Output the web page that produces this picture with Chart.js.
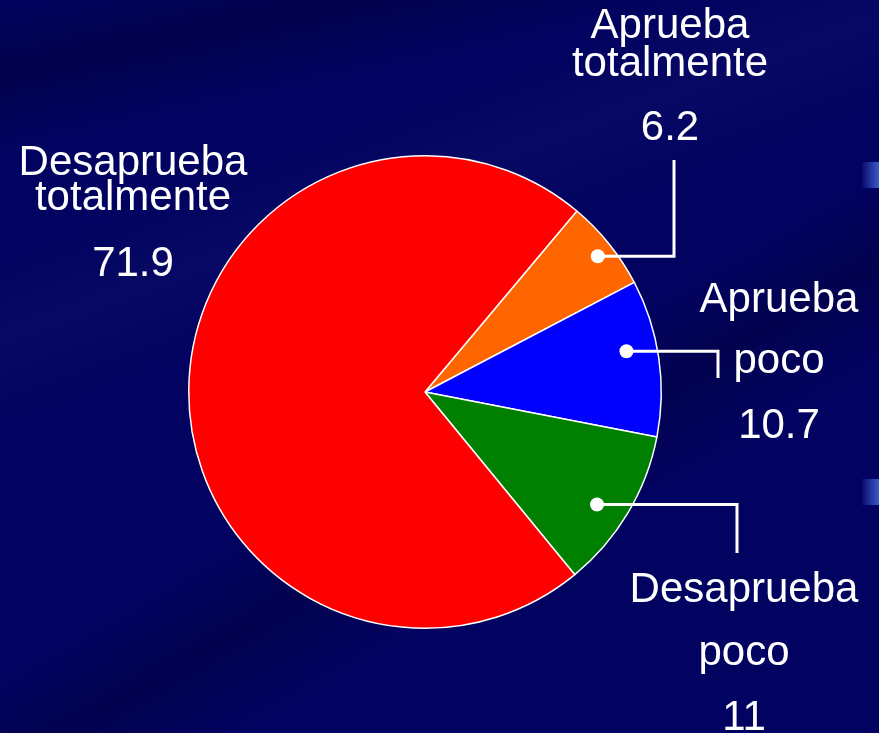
<!DOCTYPE html>
<html>
<head>
<meta charset="utf-8">
<script src="https://cdn.jsdelivr.net/npm/chart.js@4/dist/chart.umd.min.js"></script>
<style>
  html, body { margin: 0; padding: 0; }
  body {
    width: 879px; height: 733px; overflow: hidden; position: relative;
    background:
      linear-gradient(168deg, rgba(0,0,40,0) 0%, rgba(0,0,40,0.35) 8%, rgba(0,0,40,0) 16%),
      linear-gradient(160deg, rgba(30,30,120,0) 25%, rgba(20,20,110,0.35) 32%, rgba(30,30,120,0) 40%),
      linear-gradient(150deg, rgba(0,0,40,0) 55%, rgba(0,0,40,0.3) 62%, rgba(0,0,40,0) 70%),
      #020260;
  }
  .gloss { position: absolute; left: 862px; width: 17px; height: 26px;
    background: linear-gradient(90deg, #0a0a70, #3a5ac8); }
  #wrap { position: absolute; left: 0; top: 0; width: 879px; height: 733px; }
</style>
</head>
<body>
<div class="gloss" style="top:162px"></div>
<div class="gloss" style="top:479px"></div>
<div id="wrap"><canvas id="pie" width="879" height="733"></canvas></div>
<script>
// Datos (porcentajes)
const categorias = ['Aprueba totalmente', 'Aprueba poco', 'Desaprueba poco', 'Desaprueba totalmente'];
const valores = [6.2, 10.7, 11, 71.9];
const colores = ['#ff6600', '#0000ff', '#008000', '#ff0000'];

// Posición de cada etiqueta (x centro, y de cada línea de texto) y de la guía
// dot: [fracción del ángulo del sector, fracción del radio]
const etiquetas = [
  { x: 670, lineas: [38, 76], yValor: 140, dot: [0.53, 0.93], codo: [674, 160] },
  { x: 779, lineas: [312, 373], yValor: 438, dot: [0.42, 0.87], codo: [718, 378] },
  { x: 744, lineas: [602, 665], yValor: 730, dot: [0.56, 0.87], codo: [737, 553] },
  { x: 133, lineas: [175, 210], yValor: 276, dot: null }
];

const labelsPlugin = {
  id: 'etiquetas',
  afterDatasetsDraw(chart) {
    const ctx = chart.ctx;
    const arcs = chart.getDatasetMeta(0).data;
    ctx.save();
    ctx.fillStyle = '#fff';
    ctx.strokeStyle = '#fff';
    ctx.font = '42px "Liberation Sans", Arial, sans-serif';
    ctx.textAlign = 'center';
    ctx.textBaseline = 'alphabetic';
    arcs.forEach((arc, i) => {
      const e = etiquetas[i];
      const partes = categorias[i].split(' ');
      partes.forEach((t, k) => ctx.fillText(t, e.x, e.lineas[k]));
      ctx.fillText(String(valores[i]), e.x, e.yValor);
      if (e.dot) {
        const p = arc.getProps(['x', 'y', 'startAngle', 'endAngle', 'outerRadius'], true);
        const a = p.startAngle + (p.endAngle - p.startAngle) * e.dot[0];
        const dx = p.x + Math.cos(a) * p.outerRadius * e.dot[1];
        const dy = p.y + Math.sin(a) * p.outerRadius * e.dot[1];
        ctx.lineWidth = 3;
        ctx.beginPath();
        ctx.moveTo(dx, dy);
        ctx.lineTo(e.codo[0], dy);
        ctx.lineTo(e.codo[0], e.codo[1]);
        ctx.stroke();
        ctx.beginPath();
        ctx.arc(dx, dy, 7, 0, Math.PI * 2);
        ctx.fill();
      }
    });
    ctx.restore();
  }
};

new Chart(document.getElementById('pie'), {
  type: 'pie',
  data: {
    labels: categorias,
    datasets: [{ data: valores, backgroundColor: colores, borderColor: '#ffffff', borderWidth: 1.5 }]
  },
  options: {
    responsive: false,
    animation: false,
    rotation: 40,
    layout: { padding: { left: 188, right: 217, top: 155, bottom: 104 } },
    plugins: { legend: { display: false }, tooltip: { enabled: false } }
  },
  plugins: [labelsPlugin]
});
</script>
</body>
</html>
